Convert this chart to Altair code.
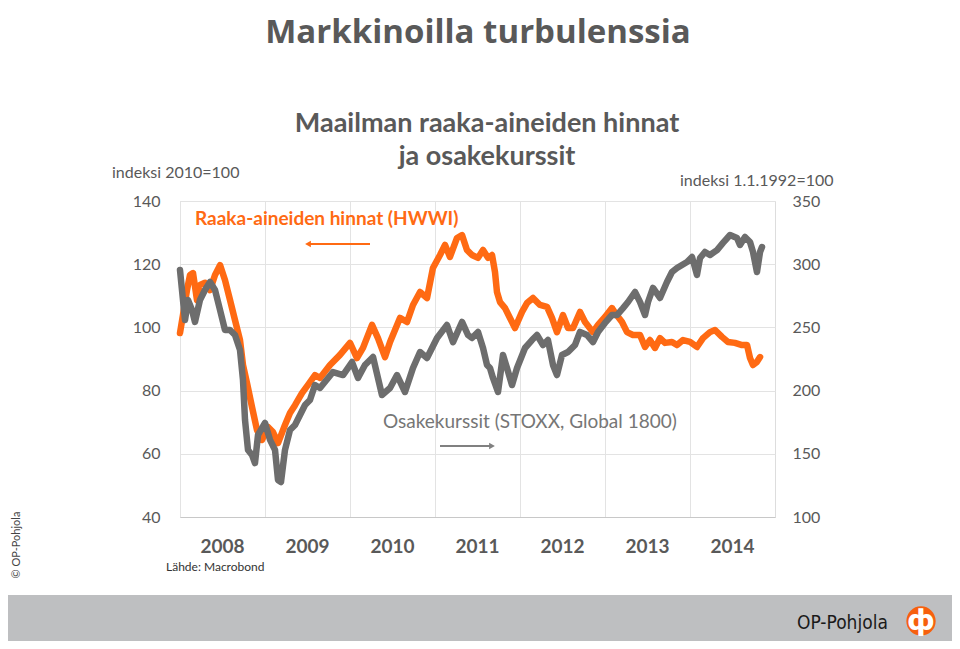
import altair as alt
import pandas as pd

# Commodity prices (HWWI), index 2010=100, left axis
hwwi_t = [2008.000, 2008.035, 2008.082, 2008.118, 2008.153, 2008.200, 2008.235, 2008.294, 2008.353, 2008.412,
          2008.471, 2008.529, 2008.588, 2008.647, 2008.706, 2008.741, 2008.788, 2008.847, 2008.906, 2008.965,
          2009.035, 2009.094, 2009.153, 2009.235, 2009.294, 2009.353, 2009.435, 2009.506, 2009.588, 2009.647,
          2009.765, 2009.882, 2010.000, 2010.082, 2010.153, 2010.259, 2010.329, 2010.412, 2010.471, 2010.588,
          2010.671, 2010.741, 2010.824, 2010.906, 2010.976, 2011.059, 2011.118, 2011.176, 2011.259, 2011.318,
          2011.376, 2011.435, 2011.506, 2011.565, 2011.624, 2011.671, 2011.706, 2011.729, 2011.765, 2011.824,
          2011.882, 2011.941, 2012.024, 2012.082, 2012.153, 2012.235, 2012.318, 2012.376, 2012.435, 2012.506,
          2012.565, 2012.624, 2012.706, 2012.765, 2012.859, 2012.918, 2013.000, 2013.082, 2013.118, 2013.200,
          2013.259, 2013.329, 2013.412, 2013.471, 2013.529, 2013.588, 2013.647, 2013.706, 2013.788, 2013.847,
          2013.918, 2014.000, 2014.082, 2014.153, 2014.235, 2014.294, 2014.376, 2014.447, 2014.529, 2014.612,
          2014.671, 2014.706, 2014.741, 2014.788, 2014.824]
hwwi_v = [98.2, 103.9, 111.8, 116.6, 117.2, 108.7, 113.4, 114.1, 111.8, 116.6,
          119.7, 115.0, 108.7, 102.3, 96.0, 88.1, 82.4, 74.8, 67.5, 64.4,
          68.5, 66.9, 63.4, 69.1, 72.9, 75.4, 79.2, 81.8, 84.9, 84.0,
          88.1, 91.3, 95.1, 90.3, 93.5, 100.8, 96.6, 90.6, 95.4, 103.0,
          101.7, 107.1, 111.2, 109.3, 118.8, 122.9, 126.1, 122.3, 128.3, 129.2,
          124.5, 122.9, 122.0, 124.5, 122.0, 122.9, 117.5, 111.2, 108.0, 106.1,
          103.0, 99.8, 104.9, 107.7, 109.3, 107.1, 106.5, 103.0, 98.5, 103.9,
          99.8, 99.8, 104.9, 101.7, 98.5, 100.8, 103.3, 106.1, 104.6, 101.7,
          98.5, 97.6, 97.6, 93.8, 96.0, 93.5, 96.6, 95.1, 95.4, 94.4,
          96.0, 95.4, 93.8, 96.6, 98.5, 99.2, 97.0, 95.4, 95.1, 94.4,
          94.4, 90.3, 88.1, 89.1, 90.6]

# Equities (STOXX Global 1800), index 1.1.1992=100, right axis
stoxx_t = [2008.000, 2008.035, 2008.059, 2008.094, 2008.141, 2008.176, 2008.235, 2008.294, 2008.353, 2008.412,
           2008.471, 2008.529, 2008.588, 2008.647, 2008.706, 2008.741, 2008.765, 2008.800, 2008.847, 2008.882,
           2008.918, 2009.000, 2009.059, 2009.118, 2009.153, 2009.188, 2009.235, 2009.294, 2009.353, 2009.412,
           2009.471, 2009.529, 2009.588, 2009.647, 2009.800, 2009.918, 2010.024, 2010.094, 2010.176, 2010.271,
           2010.376, 2010.471, 2010.553, 2010.647, 2010.741, 2010.824, 2010.906, 2011.024, 2011.141, 2011.212,
           2011.318, 2011.388, 2011.435, 2011.506, 2011.565, 2011.612, 2011.647, 2011.682, 2011.741, 2011.800,
           2011.847, 2011.906, 2011.965, 2012.059, 2012.141, 2012.200, 2012.271, 2012.329, 2012.388, 2012.435,
           2012.494, 2012.565, 2012.647, 2012.706, 2012.788, 2012.859, 2012.918, 2013.000, 2013.082, 2013.141,
           2013.212, 2013.271, 2013.353, 2013.412, 2013.471, 2013.506, 2013.565, 2013.647, 2013.729, 2013.788,
           2013.847, 2013.906, 2013.965, 2014.024, 2014.082, 2014.118, 2014.176, 2014.235, 2014.318, 2014.388,
           2014.471, 2014.553, 2014.588, 2014.647, 2014.706, 2014.741, 2014.788, 2014.824, 2014.847]
stoxx_v = [295.4, 271.7, 255.9, 271.7, 263.8, 254.3, 271.7, 279.6, 285.9, 279.6,
           263.8, 247.9, 247.9, 244.0, 232.1, 208.4, 176.7, 153.0, 149.1, 142.7,
           164.9, 174.4, 161.0, 153.0, 129.3, 127.7, 153.0, 168.8, 172.8, 180.7,
           188.6, 192.6, 204.4, 202.1, 214.7, 212.3, 222.6, 210.0, 220.3, 226.6,
           196.5, 202.1, 212.3, 198.9, 217.9, 230.5, 225.8, 241.6, 251.9, 238.4,
           254.3, 244.0, 241.6, 246.4, 233.7, 220.3, 217.9, 210.0, 198.9, 228.2,
           217.9, 204.4, 217.9, 233.7, 240.0, 244.0, 236.1, 240.0, 220.3, 212.3,
           228.2, 230.5, 236.1, 246.4, 244.0, 238.4, 246.4, 253.5, 259.8, 259.8,
           265.3, 270.1, 278.0, 270.1, 259.8, 270.1, 281.2, 273.3, 285.9, 293.8,
           297.0, 299.4, 301.7, 305.7, 291.5, 304.9, 309.7, 307.3, 311.2, 316.8,
           323.1, 320.7, 315.2, 321.5, 317.6, 309.7, 293.8, 309.7, 313.6]

years = [2008, 2009, 2010, 2011, 2012, 2013, 2014]
left_ticks = [40, 60, 80, 100, 120, 140]
right_ticks = [100, 150, 200, 250, 300, 350]

ORANGE = "#FF6A13"
GRAY = "#6D6D6D"
TXT = "#595959"
GRID = "#E3E3E3"
FONT = "Lato"

df_o = pd.DataFrame({"t": hwwi_t, "v": hwwi_v})
df_g = pd.DataFrame({"t": stoxx_t, "v": stoxx_v})
df_y = pd.DataFrame({"year": years})

x_scale = alt.Scale(domain=[2008, 2015], nice=False, zero=False)
x_axis = alt.Axis(values=years, grid=True, gridColor=GRID, labels=False, ticks=False,
                  domain=True, domainColor="#C8C8C8", title=None)

orange = alt.Chart(df_o).mark_line(color=ORANGE, strokeWidth=6.5, strokeJoin="round", strokeCap="round").encode(
    x=alt.X("t:Q", scale=x_scale, axis=x_axis),
    y=alt.Y("v:Q", scale=alt.Scale(domain=[40, 140], nice=False, zero=False),
            axis=alt.Axis(values=left_ticks, grid=True, gridColor=GRID, domain=False, ticks=False,
                          labelPadding=20, labelFontSize=16, labelColor=TXT, labelFont=FONT, title=None)),
)

gray = alt.Chart(df_g).mark_line(color=GRAY, strokeWidth=6.5, strokeJoin="round", strokeCap="round").encode(
    x=alt.X("t:Q", scale=x_scale, axis=x_axis),
    y=alt.Y("v:Q", scale=alt.Scale(domain=[100, 350], nice=False, zero=False),
            axis=alt.Axis(orient="right", values=right_ticks, grid=False, domain=False, ticks=False,
                          labelPadding=17, labelFontSize=16, labelColor=TXT, labelFont=FONT, title=None)),
)

year_labels = alt.Chart(df_y).transform_calculate(t="datum.year + 0.5").mark_text(
    fontSize=19, fontWeight="bold", color=TXT, font=FONT, baseline="alphabetic", align="center"
).encode(
    x=alt.X("t:Q", scale=x_scale, axis=x_axis),
    y=alt.value(352),
    text=alt.Text("year:N"),
)


def label(text, x, y, size, color, weight="normal", align="left", angle=0, font=FONT, baseline="alphabetic"):
    return alt.Chart(pd.DataFrame({"s": [text]})).mark_text(
        align=align, baseline=baseline, fontSize=size, color=color, fontWeight=weight, font=font, angle=angle
    ).encode(x=alt.value(x), y=alt.value(y), text="s:N")


footer = alt.Chart(pd.DataFrame({"a": [0]})).mark_rect(color="#BEBFC1").encode(
    x=alt.value(-172), x2=alt.value(772), y=alt.value(394), y2=alt.value(440)
)

arrow_o_line = alt.Chart(pd.DataFrame({"a": [0]})).mark_rule(color=ORANGE, strokeWidth=2).encode(
    x=alt.value(130), x2=alt.value(190), y=alt.value(43)
)
arrow_o_head = alt.Chart(pd.DataFrame({"a": [0]})).mark_point(
    shape="triangle-left", filled=True, size=45, color=ORANGE, opacity=1
).encode(x=alt.value(128), y=alt.value(43))

arrow_g_line = alt.Chart(pd.DataFrame({"a": [0]})).mark_rule(color="#808080", strokeWidth=2).encode(
    x=alt.value(260), x2=alt.value(310), y=alt.value(245)
)
arrow_g_head = alt.Chart(pd.DataFrame({"a": [0]})).mark_point(
    shape="triangle-right", filled=True, size=45, color="#808080", opacity=1
).encode(x=alt.value(312), y=alt.value(245))

logo_circle = alt.Chart(pd.DataFrame({"a": [0]})).mark_point(
    shape="circle", filled=True, size=860, color="#F7600E", opacity=1
).encode(x=alt.value(741), y=alt.value(420))

layers = [
    footer,
    orange,
    gray,
    year_labels,
    label("Markkinoilla turbulenssia", 298, -158, 33, TXT, weight="bold", align="center", font="Open Sans"),
    label("Maailman raaka-aineiden hinnat", 307, -69, 27, TXT, weight="bold", align="center"),
    label("ja osakekurssit", 307, -36, 27, TXT, weight="bold", align="center"),
    label("indeksi 2010=100", -68, -23, 16, TXT),
    label("indeksi 1.1.1992=100", 500, -15, 16, TXT),
    label("Raaka-aineiden hinnat (HWWI)", 15, 24, 19, ORANGE, weight="bold"),
    label("Osakekurssit (STOXX, Global 1800)", 203, 227, 19, "#767676"),
    label("Lähde: Macrobond", -14, 370, 12, "#333333"),
    label("© OP-Pohjola", -163, 344, 11, "#444444", align="center", angle=270, baseline="middle"),
    label("OP-Pohjola", 617, 428, 19, "#1A1A1A", font="DejaVu Sans Condensed"),
    arrow_o_line,
    arrow_o_head,
    arrow_g_line,
    arrow_g_head,
    logo_circle,
    label("ф", 741, 421, 28, "white", weight="bold", align="center", font="DejaVu Sans", baseline="middle"),
]

chart = alt.layer(*layers).resolve_scale(y="independent").properties(
    width=595,
    height=316,
    padding={"left": 172, "top": 193, "right": 177, "bottom": 124},
    autosize=alt.AutoSizeParams(type="none"),
).configure_view(stroke=None).configure(font=FONT)

chart.save("out.html", embed_options={"renderer": "svg", "actions": False})
